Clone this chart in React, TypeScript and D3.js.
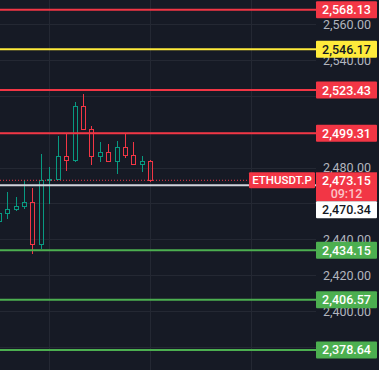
import React, { useEffect, useRef } from "react";
import * as d3 from "d3";

// candle OHLC, oldest first
const opens = [2450.1, 2454.5, 2456.8, 2458.4, 2460.9, 2437.5, 2473.1, 2473.6, 2486.5, 2484.1, 2514.4, 2501.6, 2486.5, 2488.7, 2483.7, 2491.5, 2487.1, 2482.1, 2483.7];
const highs = [2455.8, 2466.6, 2463.8, 2473.3, 2468.9, 2487.8, 2480.4, 2497.8, 2498.8, 2516.8, 2521.2, 2503.2, 2494.3, 2493.4, 2495.0, 2498.9, 2494.5, 2486.5, 2484.3];
const lows = [2449.2, 2451.6, 2456.0, 2457.2, 2432.3, 2434.7, 2459.9, 2473.3, 2478.5, 2483.5, 2501.0, 2481.5, 2483.5, 2483.7, 2476.5, 2485.4, 2481.5, 2477.6, 2472.0];
const closes = [2454.8, 2457.0, 2458.7, 2460.9, 2437.5, 2472.9, 2473.7, 2486.6, 2484.3, 2514.4, 2501.6, 2486.5, 2488.7, 2483.7, 2491.5, 2487.1, 2482.1, 2483.7, 2473.15];

const levelPrices = [2568.13, 2546.17, 2523.43, 2499.31, 2434.15, 2406.57, 2378.64];
const levelColors = ["#f23645", "#ffeb3b", "#f23645", "#f23645", "#4caf50", "#4caf50", "#4caf50"];

const yTicks = [2380, 2400, 2420, 2440, 2460, 2480, 2500, 2520, 2540, 2560];
const xGrid = [6, 18, 30];

const symbol = "ETHUSDT.P";
const lastPrice = 2473.15;
const countdown = "09:12";
const markPrice = 2470.34;

const W = 379;
const H = 370;
const AXIS_X = 316;
const UP = "#089981";
const DOWN = "#f23645";

const fmt = d3.format(",.2f");

const App = () => {
  const ref = useRef(null);

  const x = d3.scaleLinear().domain([6, 18]).range([49.3, 150.3]);
  const y = d3.scaleLinear().domain([2380, 2560]).range([347.5, 24.4]);

  useEffect(() => {
    const svg = d3.select(ref.current);
    svg.selectAll("*").remove();
    const font = "Roboto, 'Noto Sans', sans-serif";

    svg.append("rect").attr("width", W).attr("height", H).attr("fill", "#161a25");

    // grid
    const grid = svg.append("g").attr("stroke", "#242833").attr("stroke-width", 1).attr("shape-rendering", "crispEdges");
    grid.selectAll("line.h").data(yTicks).join("line")
      .attr("x1", 0).attr("x2", AXIS_X).attr("y1", (d) => y(d)).attr("y2", (d) => y(d));
    grid.selectAll("line.v").data(xGrid).join("line")
      .attr("x1", (d) => x(d)).attr("x2", (d) => x(d)).attr("y1", 0).attr("y2", H);

    // tick labels (skip the ones fully hidden under price boxes)
    const ly = y(lastPrice);
    const boxCenters = levelPrices.map((p) => y(p)).concat([ly + 6, ly + 29.5]);
    const visibleTicks = yTicks.filter((t) => {
      const ty = y(t);
      if (ty > ly - 8 && ty < ly + 38) return false;
      return boxCenters.every((c) => Math.abs(c - ty) > 8);
    });
    svg.append("g").selectAll("text").data(visibleTicks).join("text")
      .attr("x", 371).attr("y", (d) => y(d)).attr("dy", "0.35em")
      .attr("text-anchor", "end").attr("fill", "#b2b5be")
      .attr("font-family", font).attr("font-size", 12.5)
      .text((d) => fmt(d));

    // candles
    const idx = d3.range(closes.length);
    const cg = svg.append("g").attr("shape-rendering", "crispEdges").attr("fill", "none").attr("stroke-width", 1);
    idx.forEach((i) => {
      const up = closes[i] >= opens[i];
      const c = up ? UP : DOWN;
      const cx = Math.round(x(i)) + 0.5;
      const top = y(Math.max(opens[i], closes[i]));
      const bot = y(Math.min(opens[i], closes[i]));
      cg.append("line").attr("x1", cx).attr("x2", cx).attr("y1", y(highs[i])).attr("y2", top).attr("stroke", c);
      cg.append("line").attr("x1", cx).attr("x2", cx).attr("y1", bot).attr("y2", y(lows[i])).attr("stroke", c);
      cg.append("rect").attr("x", cx - 2).attr("y", top).attr("width", 4)
        .attr("height", Math.max(1, bot - top)).attr("stroke", c);
    });

    // last price dotted line + mark price line
    svg.append("line").attr("x1", 0).attr("x2", 249).attr("y1", ly).attr("y2", ly)
      .attr("stroke", DOWN).attr("stroke-width", 1).attr("stroke-dasharray", "1,2");
    svg.append("line").attr("x1", 0).attr("x2", AXIS_X).attr("y1", y(markPrice)).attr("y2", y(markPrice))
      .attr("stroke", "#d1d4dc").attr("stroke-width", 2);

    // horizontal levels
    svg.append("g").selectAll("line").data(levelPrices).join("line")
      .attr("x1", 0).attr("x2", AXIS_X).attr("y1", (d) => y(d)).attr("y2", (d) => y(d))
      .attr("stroke", (d, i) => levelColors[i]).attr("stroke-width", 2);

    const label = (yc, h, bg, txt, color, x0 = AXIS_X, w = 61, fs = 12.5) => {
      svg.append("rect").attr("x", x0).attr("y", yc - h / 2).attr("width", w).attr("height", h)
        .attr("rx", 1).attr("fill", bg);
      svg.append("text").attr("x", x0 + w / 2).attr("y", yc).attr("dy", "0.36em")
        .attr("text-anchor", "middle").attr("fill", color)
        .attr("font-family", font).attr("font-size", fs).attr("font-weight", 500)
        .text(txt);
    };

    levelPrices.forEach((p, i) => {
      const bg = levelColors[i];
      label(y(p), 17, bg, fmt(p), bg === "#ffeb3b" ? "#131722" : "#ffffff");
    });

    // last price block
    svg.append("rect").attr("x", AXIS_X).attr("y", ly - 8).attr("width", 61).attr("height", 29).attr("fill", DOWN);
    svg.append("text").attr("x", AXIS_X + 30.5).attr("y", ly).attr("dy", "0.36em").attr("text-anchor", "middle")
      .attr("fill", "#ffffff").attr("font-family", font).attr("font-size", 12.5).attr("font-weight", 500)
      .text(fmt(lastPrice));
    svg.append("text").attr("x", AXIS_X + 30.5).attr("y", ly + 13).attr("dy", "0.36em").attr("text-anchor", "middle")
      .attr("fill", "#fbc3c7").attr("font-family", font).attr("font-size", 12.5).attr("font-weight", 500)
      .text(countdown);
    label(ly, 16, DOWN, symbol, "#ffffff", 249, 66, 11.5);
    label(ly + 29.5, 17, "#ffffff", fmt(markPrice), "#131722");
  }, []);

  return (
    <svg ref={ref} width={W} height={H} style={{ position: "fixed", left: 0, top: 0, display: "block" }} />
  );
};

export default App;
